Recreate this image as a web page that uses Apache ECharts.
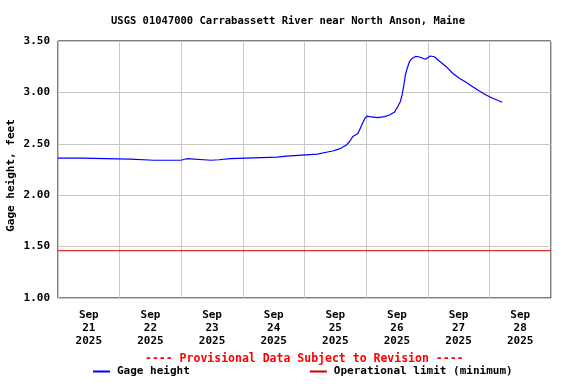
<!DOCTYPE html>
<html><head><meta charset="utf-8">
<script src="https://cdn.jsdelivr.net/npm/echarts@6/dist/echarts.min.js"></script>
<style>html,body{margin:0;padding:0;background:#fff}#c{width:576px;height:384px}</style>
</head><body><div id="c"></div>
<script>
// hours since 2025-09-21 00:00
var hours = [0, 8.8, 8.9, 28.2, 28.3, 37.4, 37.5, 38.0, 47.8, 47.9, 50.1, 50.2, 59.7, 59.8, 62.7, 62.8, 67.0, 67.1, 85.4, 85.5, 89.0, 89.1, 95.1, 95.2, 101.0, 101.1, 105.0,
  107.0, 109.6, 112.2, 113.5, 114.8, 116.8, 117.7, 118.7, 119.6, 120.4, 121.3, 124.5, 127.2, 129.1, 131.1, 132.3, 133.3, 134.0, 134.7, 135.3, 136.0, 136.9, 137.9, 139.2, 140.5, 142.1, 143.1, 144.0, 144.9, 146.6, 148.5, 151.2, 153.7, 156.3, 158.9, 161.5, 164.1, 166.7, 169.3, 173.0];
var gage = [2.36, 2.36, 2.35, 2.35, 2.34, 2.34, 2.335, 2.34, 2.34, 2.355, 2.355, 2.34, 2.34, 2.345, 2.345, 2.355, 2.355, 2.37, 2.37, 2.38, 2.38, 2.39, 2.39, 2.40, 2.40, 2.41, 2.42,
  2.43, 2.45, 2.485, 2.52, 2.57, 2.60, 2.65, 2.705, 2.75, 2.77, 2.765, 2.755, 2.765, 2.78, 2.81, 2.86, 2.91, 2.975, 3.07, 3.17, 3.235, 3.30, 3.33, 3.35, 3.347, 3.332, 3.322, 3.338, 3.354, 3.347, 3.305, 3.25, 3.186, 3.137, 3.098, 3.055, 3.013, 2.975, 2.943, 2.904];
var opLimit = 1.46;
var dayLabels = ['21', '22', '23', '24', '25', '26', '27', '28'];
var monthLabel = 'Sep';
var yearLabel = '2025';
var yTicks = [1.0, 1.5, 2.0, 2.5, 3.0, 3.5];

var F = '"DejaVu Sans Mono", monospace';
var BLUE = '#0000ff', RED = '#d00000';
var gageData = hours.map(function (h, i) { return [h, gage[i]]; });
var chart = echarts.init(document.getElementById('c'));
chart.setOption({
  animation: false,
  title: { text: 'USGS 01047000 Carrabassett River near North Anson, Maine', left: 'center', top: 11,
    textStyle: { fontFamily: F, fontSize: 10.5, fontWeight: 'bold', color: '#000' } },
  grid: { left: 58, right: 25, top: 41, bottom: 86, show: true, borderColor: '#000', borderWidth: 1, backgroundColor: 'transparent',
    outerBoundsMode: 'none', containLabel: false },
  xAxis: [
    { type: 'value', min: 0, max: 192, interval: 24, axisLabel: { show: false }, axisTick: { show: false },
      axisLine: { show: false }, splitLine: { show: true, lineStyle: { color: '#c8c8c8', width: 1 } } },
    { type: 'value', position: 'bottom', min: 0, max: 192, interval: 12, axisTick: { show: false }, axisLine: { show: false },
      splitLine: { show: false },
      axisLabel: { show: true, margin: 11, lineHeight: 13, fontFamily: F, fontSize: 11, fontWeight: 'bold', color: '#000',
        formatter: function (v) { var k = Math.round(v); if (k % 24 !== 12) return ''; var d = (k - 12) / 24; return monthLabel + '\n' + dayLabels[d] + '\n' + yearLabel; } } }
  ],
  yAxis: { type: 'value', min: yTicks[0], max: yTicks[yTicks.length - 1], interval: 0.5,
    name: 'Gage height, feet', nameLocation: 'middle', nameGap: 41, nameRotate: 90, nameMoveOverlap: false,
    nameTextStyle: { fontFamily: F, fontSize: 11, fontWeight: 'bold', color: '#000', padding: [0, 12, 0, 0] },
    axisLine: { show: false }, axisTick: { show: false },
    axisLabel: { margin: 8, fontFamily: F, fontSize: 11, fontWeight: 'bold', color: '#000', formatter: function (v) { return v.toFixed(2); } },
    splitLine: { show: true, lineStyle: { color: '#c8c8c8', width: 1 } } },
  legend: { top: 366, left: 93, padding: 0, itemGap: 120, itemWidth: 17, itemHeight: 2, icon: 'rect',
    textStyle: { fontFamily: F, fontSize: 11, fontWeight: 'bold', color: '#000', padding: [0, 0, 0, 2] },
    data: [
      { name: 'Gage height', icon: 'rect', itemStyle: { color: BLUE, borderWidth: 0 } },
      { name: 'Operational limit (minimum)', icon: 'rect', itemStyle: { color: RED, borderWidth: 0 } }
    ] },
  graphic: [{ type: 'text', left: 145, top: 353, style: { text: '---- Provisional Data Subject to Revision ----',
    fontFamily: F, fontSize: 11.5, fontWeight: 'bold', fill: '#ff0000' } }],
  series: [
    { name: 'Gage height', type: 'line', xAxisIndex: 0, data: gageData, showSymbol: false, symbol: 'none',
      lineStyle: { color: BLUE, width: 1.2 }, itemStyle: { color: BLUE } },
    { name: 'Operational limit (minimum)', type: 'line', xAxisIndex: 0, data: [[0, opLimit], [192, opLimit]], showSymbol: false, symbol: 'none',
      lineStyle: { color: RED, width: 1 }, itemStyle: { color: RED } }
  ]
});
</script></body></html>
